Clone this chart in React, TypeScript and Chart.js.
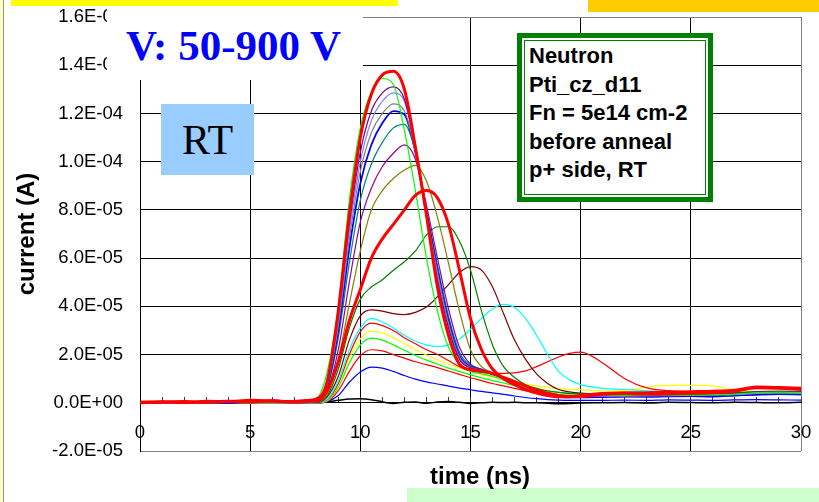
import React, { useEffect, useRef } from 'react';
import { Chart, registerables } from 'chart.js';

Chart.register(...registerables);

// time axis (ns)
const T = [
  0, 1, 2, 3, 4, 5, 6, 7, 7.5,
  8, 8.5, 9, 9.5, 10, 10.5, 11, 11.5, 12, 12.5, 13, 13.5, 14, 14.5, 15, 15.5, 16, 16.5, 17, 17.5, 18,
  18.5, 19, 19.5, 20,
  21, 22, 23, 24, 25, 26, 27, 28, 29, 30,
];

const X_TICK_LABELS = ['0', '5', '10', '15', '20', '25', '30'];
const Y_TICK_LABELS = [
  '-2.0E-05', '0.0E+00', '2.0E-05', '4.0E-05', '6.0E-05',
  '8.0E-05', '1.0E-04', '1.2E-04', '1.4E-04', '1.6E-04',
];

// current values in microampere (1e-6 A)
const RED_THICK_HIGH = [
  0.2, 0.4, 0.1, 0.6, 0.5, 1.0, 0.7, 0.5, 0.9,
  1.5, 9, 38, 78, 110, 128, 136, 137.5, 130, 106, 78, 48, 28, 16, 13.8, 13.2, 12, 10.5, 8.8, 7, 5.2,
  4, 3, 2.6, 2.6,
  3.5, 3.8, 3.6, 3.8, 4, 4.2, 4.8, 6.2, 6, 5.5,
];
const RED_THICK_LOW = [
  0, 0.3, 0.5, 0.2, 0.6, 0.4, 0.8, 0.3, 0.6,
  0.8, 5, 17, 34, 47, 60, 68, 74, 80, 86, 88, 85, 74, 55, 35, 22, 14, 10, 7.5, 5.5, 4,
  3, 2.5, 2.5, 3,
  3.8, 4.2, 4.2, 4.4, 4.6, 4.8, 5.2, 6.5, 6.3, 6,
];
const GREEN_HIGH = [
  0, 0.2, 0.1, 0.3, 0.2, 0.5, 0.3, 0.2, 0.4,
  1.5, 13, 40, 84, 114, 129, 134.5, 132, 113, 88, 60, 38, 23, 16, 13, 12, 11, 9.5, 8, 6.5, 5,
  4, 3.5, 3.2, 3.2,
  3.2, 3, 3.2, 3.4, 3.2, 3.4, 3.6, 4.2, 4.4, 4.2,
];
const PURPLE_HIGH = [
  0, 0.2, 0.3, 0.1, 0.3, 0.4, 0.2, 0.3, 0.4,
  0.8, 9, 36, 74, 104, 121, 128.5, 131, 126, 105, 77, 51, 31, 18, 14.5, 13.3, 12, 10.3, 8.5, 6.8, 5.2,
  4, 3.2, 2.8, 2.8,
  3, 3.2, 3.2, 3.3, 3.5, 3.6, 3.8, 4.5, 4.6, 4.5,
];
const LIGHT_BLUE = [
  0.1, 0.2, 0, 0.3, 0.2, 0.3, 0.1, 0.2, 0.3,
  0.6, 8, 34, 71, 100, 117, 125, 128.5, 125, 106, 78, 53, 32, 18.5, 14.5, 13.4, 12, 10.2, 8.4, 6.6, 5,
  3.8, 3, 2.6, 2.6,
  2.8, 3, 3, 3.2, 3.3, 3.4, 3.5, 4, 4.2, 4,
];
const GREY = [
  0.2, 0, 0.2, 0.1, 0.3, 0.2, 0.4, 0.1, 0.2,
  0.5, 7.5, 32, 68, 96, 112, 120, 124, 121, 104, 78, 54, 33, 19, 14.8, 13.5, 12, 10.2, 8.3, 6.5, 5,
  3.7, 2.9, 2.5, 2.5,
  2.7, 2.9, 3, 3, 3.2, 3.3, 3.4, 3.9, 4, 3.9,
];
const BLUE_HIGH = [
  0, 0.2, 0.1, 0.2, 0, 0.4, 1.0, 0.3, 0.2,
  0.5, 7, 30, 64, 91, 107, 116, 121, 119.5, 104, 79, 55, 34, 19.5, 15, 13.6, 12, 10.2, 8.3, 6.4, 4.8,
  3.5, 2.6, 2.2, 2.2,
  2.4, 2.6, 2.5, 2.7, 2.8, 2.6, 3, 3.4, 3.6, 3.5,
];
const TEAL = [
  0.1, 0.3, 0.1, 0.2, 0.3, 0.2, 0.3, 0.2, 0.3,
  0.4, 6, 27, 58, 84, 99, 108, 114, 115.5, 104, 80, 57, 36, 21, 15.5, 13.8, 12.2, 10.4, 8.5, 6.6, 5,
  3.8, 3, 2.6, 2.6,
  2.9, 3.1, 3.2, 3.2, 3.4, 3.5, 3.6, 4, 4.2, 4.1,
];
const PURPLE_MID = [
  0.2, 0.1, 0.3, 0.2, 0.1, 0.3, 0.2, 0.3, 0.2,
  0.3, 5, 22, 50, 75, 89, 98, 103.5, 107, 101, 82, 60, 39, 23, 16, 14, 12.3, 10.5, 8.6, 6.7, 5.1,
  3.9, 3.1, 2.7, 2.7,
  3, 3.2, 3.3, 3.3, 3.5, 3.6, 3.7, 4.1, 4.3, 4.2,
];
const OLIVE = [
  0.1, 0.2, 0.2, 0.1, 0.3, 0.2, 0.2, 0.3, 0.2,
  0.2, 4, 18, 41, 63, 80, 88, 93, 96.5, 98.5, 92, 77, 58, 38, 22, 15, 12.5, 10.6, 8.7, 6.8, 5.2,
  4, 3.2, 2.8, 2.8,
  3.1, 3.3, 3.4, 3.4, 3.6, 3.7, 3.8, 4.2, 4.3, 4.3,
];
const DARK_GREEN = [
  0.1, 0.2, 0.1, 0.2, 0.2, 0.1, 0.3, 0.2, 0.2,
  0.2, 3, 14, 31, 43, 48, 51, 55, 58.5, 63, 69.5, 73, 73, 67, 55, 38, 24, 15, 10.5, 7.5, 6,
  5, 4.3, 3.8, 3.6,
  3.6, 3.7, 3.6, 3.8, 3.8, 4, 4.2, 4.6, 4.8, 4.7,
];
const BROWN = [
  0.1, 0.1, 0.2, 0.1, 0.2, 0.1, 0.2, 0.1, 0.2,
  0.1, 2.5, 11, 26, 36, 38.5, 38, 37, 36.6, 37.5, 39.7, 44, 49, 54, 56.5, 55, 48, 37, 26, 18, 12,
  8, 5.5, 4.5, 4,
  3.6, 3.4, 3.4, 3.5, 3.5, 3.6, 3.8, 4, 4.2, 4,
];
const CYAN = [
  0, 0.1, 0.1, 0, 0.1, 0.2, 0.1, 0.1, 0.1,
  0.1, 1.5, 9, 22, 31, 35, 33.5, 31, 28, 25.5, 24, 23.3, 24, 26.5, 30.5, 35, 39, 40.8, 39.5, 35, 28,
  20, 13, 9.5, 7.5,
  6, 5.5, 5, 4.5, 4.2, 4, 3.8, 3.6, 3.5, 3.4,
];
const RED_MID = [
  0.1, 0, 0.2, 0.1, 0, 0.2, 0.1, 0, 0.1,
  0.1, 1.2, 8, 20, 29.5, 33, 32, 30, 27, 24.5, 22, 20, 17.5, 15, 13.2, 12.6, 12.3, 12.2, 12.4, 13.2, 15,
  17, 19, 20.5, 21,
  16.5, 10, 6.2, 5, 4.6, 4.4, 4.2, 4, 3.8, 3.6,
];
const YELLOW = [
  0, 0.1, 0, 0.1, 0.1, 0, 0.1, 0, 0.1,
  0, 1, 7.5, 18.5, 26.5, 29.7, 29, 27, 24.5, 22, 19.8, 17.8, 16, 14.5, 13, 11.8, 10.6, 9.6, 8.6, 7.8, 7,
  6.4, 5.9, 5.6, 5.4,
  5, 5.2, 6.5, 7.2, 7.2, 7, 5.2, 4.5, 4.2, 4,
];
const GREEN_LOW = [
  0.1, 0, 0.1, 0, 0.1, 0.1, 0, 0.1, 0,
  0, 0.8, 6.5, 16.5, 24, 26.8, 26, 24, 21.8, 19.6, 17.7, 16, 14.4, 13, 11.6, 10.3, 9.2, 8.2, 7.2, 6.3, 5.5,
  4.8, 4.3, 4, 3.8,
  3.6, 3.5, 3.5, 3.6, 3.6, 3.7, 4, 4.4, 4.6, 4.4,
];
const RED_LOW = [
  0, 0.1, 0, 0.1, 0, 0.1, 0, 0.1, 0,
  0, 0.6, 5, 13, 19.5, 22, 21.5, 20, 18.5, 17, 15.8, 14.6, 13.2, 11.8, 10.4, 9.2, 8, 7, 6, 5, 4.2,
  3.5, 3, 2.6, 2.4,
  2.4, 2.5, 2.6, 2.7, 2.8, 2.9, 3, 3.3, 3.5, 3.4,
];
const BLUE_LOW = [
  0, 0.1, 0, 0, 0.1, 0, 0.1, 0, 0,
  0, 0.5, 3, 8.5, 12.8, 14.8, 14.4, 13, 11.3, 9.8, 8.7, 7.8, 6.9, 6.1, 5.4, 4.7, 4.1, 3.5, 2.8, 2.2, 1.7,
  1.3, 1.1, 1, 1,
  1, 1.1, 1, 1.2, 1.1, 1, 1.2, 1.3, 1.2, 1.1,
];
const BLACK = [
  0, 0.2, 0, 0.1, -0.2, 0.1, 0, -0.2, 0.1,
  0, 0.3, 1, 1.6, 1.7, 1.3, 0.4, -0.3, 0.2, 0.3, -0.2, 0.3, 0.5, 0.2, -0.3, 0, 0.2, 0.1, 0.2, 0, 0,
  -0.2, -0.4, -0.3, -0.1,
  0, 0.1, -0.1, 0.2, 0.1, 0, 0.2, 0.1, 0, 0.2,
];

// drawn first in this list = on top
const SERIES = [
  { values: RED_THICK_HIGH, color: '#ff0000', width: 3 },
  { values: RED_THICK_LOW, color: '#ff0000', width: 3 },
  { values: GREEN_HIGH, color: '#00ff00', width: 1.2 },
  { values: PURPLE_HIGH, color: '#800080', width: 1.2 },
  { values: LIGHT_BLUE, color: '#8080ff', width: 1.2 },
  { values: GREY, color: '#808080', width: 1.2 },
  { values: BLUE_HIGH, color: '#0000ff', width: 1.8 },
  { values: TEAL, color: '#008080', width: 1.2 },
  { values: PURPLE_MID, color: '#990099', width: 1.2 },
  { values: OLIVE, color: '#808000', width: 1.2 },
  { values: DARK_GREEN, color: '#008000', width: 1.2 },
  { values: BROWN, color: '#800000', width: 1.2 },
  { values: CYAN, color: '#00ffff', width: 1.2 },
  { values: RED_MID, color: '#ff0000', width: 1.2 },
  { values: YELLOW, color: '#ffff00', width: 1.2 },
  { values: GREEN_LOW, color: '#00ff00', width: 1.2 },
  { values: RED_LOW, color: '#ff0000', width: 1.2 },
  { values: BLUE_LOW, color: '#0000ff', width: 1.2 },
  { values: BLACK, color: '#000000', width: 1.5 },
];

const Y_MIN = -20;
const Y_MAX = 160;
const Y_STEP = 20;

const FONT = "'Liberation Sans', Arial, sans-serif";
const SERIF = "'Liberation Serif', 'Times New Roman', serif";

const clearPadding = (scale: any) => {
  scale.paddingTop = 0;
  scale.paddingBottom = 0;
  scale.paddingLeft = 0;
  scale.paddingRight = 0;
};

export default function App() {
  const canvasRef = useRef<HTMLCanvasElement | null>(null);

  useEffect(() => {
    const canvas = canvasRef.current;
    if (!canvas) return;
    Chart.defaults.font.family = FONT;
    Chart.defaults.color = '#000';

    const chart = new Chart(canvas, {
      type: 'line',
      data: {
        datasets: SERIES.map((s) => ({
          data: T.map((t, i) => ({ x: t, y: s.values[i] })),
          borderColor: s.color,
          backgroundColor: s.color,
          borderWidth: s.width,
          pointRadius: 0,
          fill: false,
          cubicInterpolationMode: 'monotone' as const,
        })),
      },
      options: {
        responsive: false,
        animation: false,
        layout: { padding: { left: 0, top: 17, right: 18, bottom: 51 } },
        plugins: {
          legend: { display: false },
          tooltip: { enabled: false },
        },
        elements: {
          line: { borderJoinStyle: 'round', borderCapStyle: 'round' },
          point: { radius: 0 },
        },
        scales: {
          x: {
            type: 'linear',
            min: 0,
            max: 30,
            position: { y: 0 } as any,
            ticks: {
              stepSize: 1,
              autoSkip: false,
              maxRotation: 0,
              color: '#000',
              font: { size: 18.5, family: FONT },
              padding: 25,
              callback: (v: any) => {
                const idx = X_TICK_LABELS.indexOf(String(v));
                return idx >= 0 ? X_TICK_LABELS[idx] : '';
              },
            },
            grid: {
              color: (ctx: any) => {
                const v = ctx.tick ? ctx.tick.value : 0;
                if (v === 30) return '#808080';
                return v % 5 === 0 ? '#000' : 'rgba(0,0,0,0)';
              },
              lineWidth: 1,
              drawTicks: true,
              tickLength: -6,
              tickColor: '#404040',
              tickWidth: 1,
            },
            border: { display: true, color: '#000', width: 1 },
            afterFit: clearPadding,
          },
          y: {
            type: 'linear',
            min: Y_MIN,
            max: Y_MAX,
            ticks: {
              stepSize: Y_STEP,
              color: '#000',
              font: { size: 18.5, family: FONT },
              padding: 17,
              callback: (v: any) => Y_TICK_LABELS[Math.round((Number(v) - Y_MIN) / Y_STEP)] ?? '',
            },
            grid: {
              color: (ctx: any) => {
                const v = ctx.tick ? ctx.tick.value : 0;
                return v === Y_MIN || v === Y_MAX ? '#808080' : '#000';
              },
              lineWidth: 1,
              drawTicks: false,
            },
            border: { display: true, color: '#000', width: 1 },
            title: {
              display: true,
              text: 'current (A)',
              color: '#000',
              font: { size: 24, weight: 'bold', family: FONT },
              padding: { top: 12.5, bottom: 0 },
            },
            afterFit: (scale: any) => {
              scale.width = 140;
              clearPadding(scale);
            },
          },
        },
      },
    });
    return () => chart.destroy();
  }, []);

  return (
    <div
      style={{
        position: 'fixed',
        left: 0,
        top: 0,
        width: 819,
        height: 502,
        background: '#ffffff',
        overflow: 'hidden',
      }}
    >
      <canvas
        ref={canvasRef}
        width={819}
        height={502}
        style={{ position: 'absolute', left: 0, top: 0, display: 'block' }}
      />
      {/* left strip */}
      <div style={{ position: 'absolute', left: 0, top: 0, width: 3, height: 502, background: '#ffffcc' }} />
      <div style={{ position: 'absolute', left: 3, top: 0, width: 1, height: 502, background: '#999966' }} />
      {/* white panel behind the voltage label */}
      <div style={{ position: 'absolute', left: 107, top: 6, width: 256, height: 74, background: '#ffffff' }} />
      <div
        style={{
          position: 'absolute',
          left: 126,
          top: 24,
          font: `bold 43px ${SERIF}`,
          lineHeight: '43px',
          color: '#0000ff',
          whiteSpace: 'nowrap',
        }}
      >
        V: 50-900 V
      </div>
      {/* decorative bars */}
      <div style={{ position: 'absolute', left: 11, top: 0, width: 387, height: 6, background: '#ffff00' }} />
      <div style={{ position: 'absolute', left: 588, top: 0, width: 231, height: 12, background: '#ffcc00' }} />
      <div style={{ position: 'absolute', left: 407, top: 488, width: 412, height: 14, background: '#ccffcc' }} />
      {/* RT box */}
      <div
        style={{
          position: 'absolute',
          left: 161,
          top: 104,
          width: 93,
          height: 71,
          background: '#99ccff',
          display: 'flex',
          alignItems: 'center',
          justifyContent: 'center',
          font: `42px ${SERIF}`,
          lineHeight: '42px',
          color: '#000',
        }}
      >
        RT
      </div>
      {/* info box */}
      <div
        style={{
          position: 'absolute',
          left: 517,
          top: 33,
          width: 196,
          height: 169,
          boxSizing: 'border-box',
          border: '5px solid #008000',
          background: '#ffffff',
        }}
      >
        <div
          style={{
            position: 'absolute',
            left: 2,
            top: 2,
            right: 2,
            bottom: 2,
            border: '1px solid #008000',
          }}
        />
      </div>
      <div
        style={{
          position: 'absolute',
          left: 529,
          top: 42,
          font: `bold 22px ${FONT}`,
          lineHeight: '28.5px',
          color: '#000',
          whiteSpace: 'nowrap',
        }}
      >
        <div>Neutron</div>
        <div>Pti_cz_d11</div>
        <div>Fn = 5e14 cm-2</div>
        <div>before anneal</div>
        <div>p+ side, RT</div>
      </div>
      {/* x axis title */}
      <div
        style={{
          position: 'absolute',
          left: 380,
          top: 464,
          width: 200,
          textAlign: 'center',
          font: `bold 24px ${FONT}`,
          lineHeight: '24px',
          color: '#000',
        }}
      >
        time (ns)
      </div>
    </div>
  );
}
